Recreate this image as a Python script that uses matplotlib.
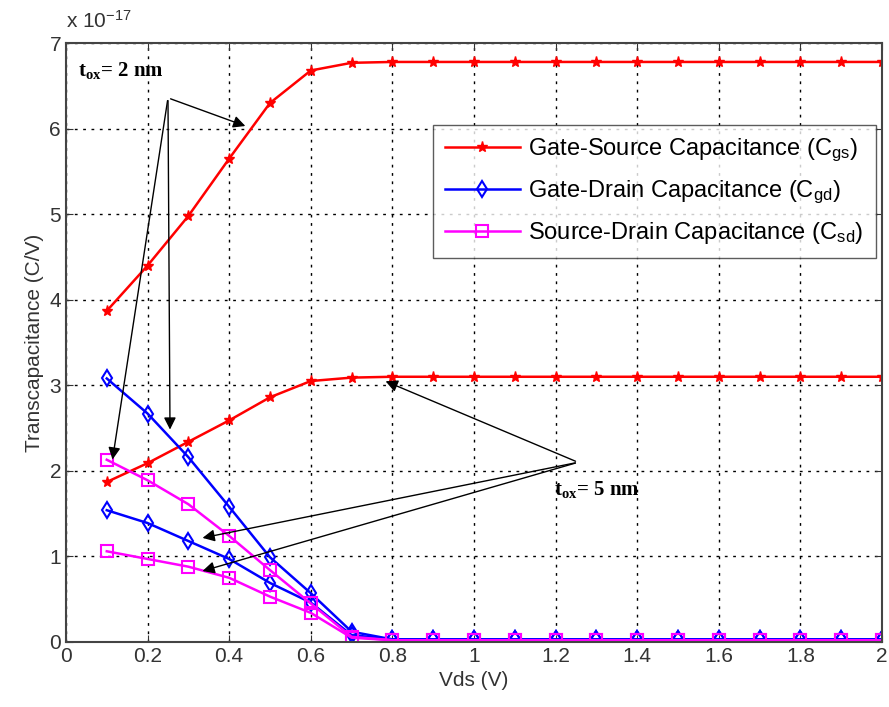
import numpy as np
import matplotlib.pyplot as plt

plt.rcParams['font.family'] = ['Liberation Sans', 'DejaVu Sans']
plt.rcParams['mathtext.fontset'] = 'custom'
plt.rcParams['mathtext.rm'] = 'Liberation Sans'
plt.rcParams['mathtext.it'] = 'Liberation Sans'
plt.rcParams['mathtext.bf'] = 'Liberation Serif:bold'

#======data (C/V, in units of 1e-17)=========#
vds = np.round(np.arange(0.1, 2.01, 0.1), 1)

cgs_2nm = [3.87, 4.40, 4.98, 5.65, 6.30, 6.68, 6.77] + [6.78] * 13
cgs_5nm = [1.87, 2.09, 2.34, 2.59, 2.86, 3.05, 3.09] + [3.10] * 13
cgd_2nm = [3.08, 2.67, 2.16, 1.58, 0.99, 0.57, 0.12] + [0.03] * 13
cgd_5nm = [1.54, 1.39, 1.18, 0.97, 0.69, 0.46, 0.08] + [0.03] * 13
csd_2nm = [2.13, 1.89, 1.61, 1.24, 0.84, 0.45, 0.06] + [0.02] * 13
csd_5nm = [1.06, 0.97, 0.88, 0.75, 0.53, 0.34, 0.05] + [0.02] * 13

scale = 1e-17
red, blue, mag = '#ff0000', '#0000ff', '#ff00ff'

fig = plt.figure(figsize=(8.89, 7.07), dpi=100)
ax = fig.add_axes([0.0742, 0.092, 0.918, 0.847])

l1, = ax.plot(vds, np.array(cgs_2nm) * scale, '-*', color=red, lw=1.8, ms=8,
              label='Gate-Source Capacitance (C$_{gs}$)')
ax.plot(vds, np.array(cgs_5nm) * scale, '-*', color=red, lw=1.8, ms=8)
l2, = ax.plot(vds, np.array(cgd_2nm) * scale, '-d', color=blue, mfc='none', mew=1.5,
              lw=1.8, ms=8.5, label='Gate-Drain Capacitance (C$_{gd}$)')
ax.plot(vds, np.array(cgd_5nm) * scale, '-d', color=blue, mfc='none', mew=1.5, lw=1.8, ms=8.5)
l3, = ax.plot(vds, np.array(csd_2nm) * scale, '-s', color=mag, mfc='none', mew=1.5,
              lw=1.8, ms=9, label='Source-Drain Capacitance (C$_{sd}$)')
ax.plot(vds, np.array(csd_5nm) * scale, '-s', color=mag, mfc='none', mew=1.5, lw=1.8, ms=9)

ax.set_xlim(0, 2)
ax.set_ylim(0, 7e-17)
ax.set_xticks(np.arange(0, 2.01, 0.2))
ax.set_xticklabels(['0', '0.2', '0.4', '0.6', '0.8', '1', '1.2', '1.4', '1.6', '1.8', '2'])
ax.set_yticks(np.arange(0, 8) * scale)
ax.set_yticklabels([str(i) for i in range(8)])
ax.text(0.0, 1.025, r'x 10$^{-17}$', transform=ax.transAxes, fontsize=15, color='#333333')

ax.grid(True, color='k', linestyle=(0, (2, 4)), lw=1.0)
ax.tick_params(direction='in', top=True, right=True, labelsize=15, length=5, colors='#333333')
for sp in ax.spines.values():
    sp.set_color('#444444')
    sp.set_linewidth(1.5)

ax.set_xlabel('Vds (V)', fontsize=15, color='#333333')
ax.set_ylabel('Transcapacitance (C/V)', fontsize=15, color='#333333')

ax.legend(handles=[l1, l2, l3], loc='upper right', bbox_to_anchor=(0.992, 0.863),
          borderaxespad=0, fontsize=17, handlelength=3.2, frameon=True, fancybox=False,
          edgecolor='#333333', borderpad=0.5, labelspacing=0.6, handletextpad=0.35)

# annotations
arrow = dict(arrowstyle='-|>', color='k', lw=1.0, mutation_scale=18)
ax.text(0.03, 6.62 * scale, r'$\mathbf{t_{ox}}$= 2 nm', fontsize=15, fontweight='bold',
        family='Liberation Serif')
for tx, ty in [(0.446, 6.02), (0.113, 2.10), (0.255, 2.45)]:
    ax.annotate('', xy=(tx, ty * scale), xytext=(0.25, 6.36 * scale), arrowprops=arrow)

ax.text(1.195, 1.72 * scale, r'$\mathbf{t_{ox}}$= 5 nm', fontsize=15, fontweight='bold',
        family='Liberation Serif')
for tx, ty in [(0.777, 3.06), (0.328, 1.21), (0.328, 0.82)]:
    ax.annotate('', xy=(tx, ty * scale), xytext=(1.255, 2.10 * scale), arrowprops=arrow)

plt.savefig('out.png', dpi=100)
